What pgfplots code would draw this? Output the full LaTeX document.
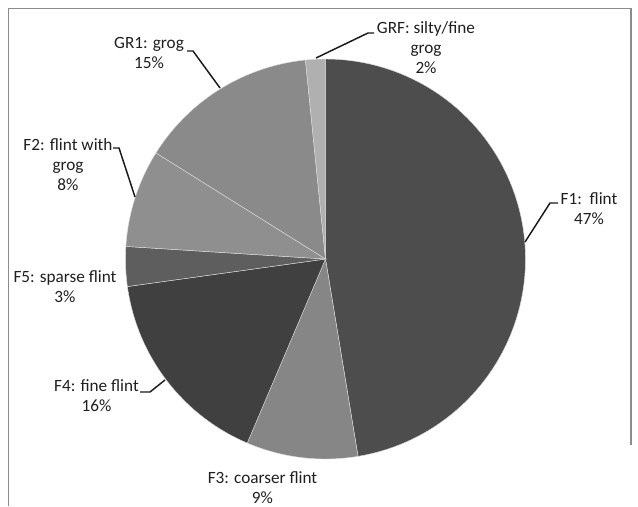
\documentclass[border=0pt]{standalone}
\usepackage{pgfplots}
\pgfplotsset{compat=1.18}
\usepackage{pgfplotstable}
\usepackage{fontspec}
\setmainfont{Carlito}
\definecolor{cF1}{HTML}{4D4D4D}
\definecolor{cF3}{HTML}{868686}
\definecolor{cF4}{HTML}{404040}
\definecolor{cF5}{HTML}{5E5E5E}
\definecolor{cF2}{HTML}{8F8F8F}
\definecolor{cGR1}{HTML}{8A8A8A}
\definecolor{cGRF}{HTML}{B0B0B0}
\definecolor{frame}{HTML}{8C8C8C}
% pie values (percent), clockwise from 12 o'clock
\pgfplotstableread{
label value cumstart cumend
F1   47.4  0.0   47.4
F3   9.0   47.4  56.4
F4   16.4  56.4  72.8
F5   3.2   72.8  76.0
F2   7.9   76.0  83.9
GR1  14.5  83.9  98.4
GRF  1.6   98.4  100.0
}\piedata
\newcommand\slice[3]{%
  \addplot[fill=#3, draw=white!75!gray, line width=0.3pt, domain=90-3.6*(#2):90-3.6*(#1), samples=80, variable=\t]
    ({325.5+200*cos(\t)},{259-200*sin(\t)}) -- (axis cs:325.5,259) -- cycle;}
\newcommand\labl[4]{%
  \node[anchor=base, font=\fontsize{12.9}{15}\selectfont, text=black!88, inner sep=0pt] at (axis cs:#1,#2) {#3};
  \node[anchor=base, font=\fontsize{12.9}{15}\selectfont, text=black!88, inner sep=0pt] at (axis cs:#1,#2+20) {#4};}
\begin{document}
\begin{tikzpicture}
\begin{axis}[
  width=478.5pt, height=379.5pt, scale only axis,
  xmin=0, xmax=638, ymin=0, ymax=506, y dir=reverse,
  hide axis, clip=false]
\path (axis cs:0,0) rectangle (axis cs:638,506);
\draw[frame, line width=1.1pt] (axis cs:8.5,506) -- (axis cs:8.5,8.5) -- (axis cs:631,8.5) -- (axis cs:631,445);
\slice{0.0}{47.4}{cF1}
\slice{47.4}{56.4}{cF3}
\slice{56.4}{72.8}{cF4}
\slice{72.8}{76.0}{cF5}
\slice{76.0}{83.9}{cF2}
\slice{83.9}{98.4}{cGR1}
\slice{98.4}{100.0}{cGRF}
% leader lines
\draw[black!90, line width=1.1pt] (axis cs:558,203) -- (axis cs:550,203) -- (axis cs:525,242);
\draw[black!90, line width=1.1pt] (axis cs:140,392) -- (axis cs:150,392) -- (axis cs:165,380);
\draw[black!90, line width=1.1pt] (axis cs:113,148) -- (axis cs:119,148) -- (axis cs:135,197);
\draw[black!90, line width=1.1pt] (axis cs:187,51) -- (axis cs:193,51) -- (axis cs:220,88);
\draw[black!90, line width=1.1pt] (axis cs:374,33) -- (axis cs:368,33) -- (axis cs:316,58);
% labels
\labl{589}{204}{F1:\ \ flint}{47\%}
\labl{262.5}{483}{F3: coarser flint}{9\%}
\labl{96.5}{391}{F4: fine flint}{16\%}
\labl{65}{282}{F5: sparse flint}{3\%}
\labl{68}{150}{F2: flint with}{grog}
\node[anchor=base, font=\fontsize{12.9}{15}\selectfont, text=black!88, inner sep=0pt] at (axis cs:68,190) {8\%};
\labl{149}{48}{GR1: grog}{15\%}
\labl{426}{33}{GRF: silty/fine}{grog}
\node[anchor=base, font=\fontsize{12.9}{15}\selectfont, text=black!88, inner sep=0pt] at (axis cs:426,73) {2\%};
\end{axis}
\end{tikzpicture}
\end{document}
